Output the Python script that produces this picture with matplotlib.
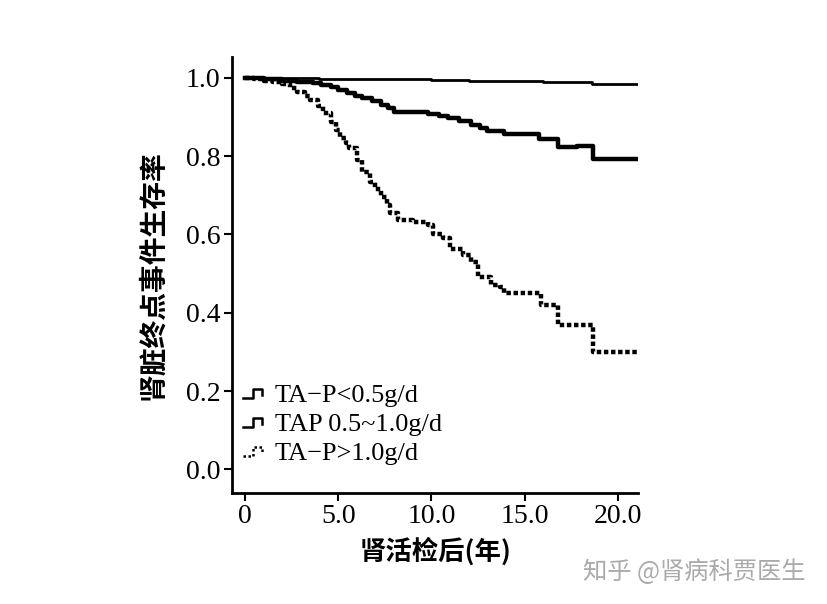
import matplotlib
matplotlib.use("Agg")
import matplotlib.pyplot as plt
from matplotlib.lines import Line2D
from matplotlib.legend_handler import HandlerBase

# Data
t_low = [0, 2.0, 4.0, 6.0, 8.0, 10.0, 12.0, 14.0, 16.0, 18.6, 21.0]
s_low = [1.0, 0.999, 0.998, 0.997, 0.996, 0.995, 0.993, 0.991, 0.989, 0.985, 0.985]

t_mid = [0, 0.5, 1.0, 1.5, 2.0, 2.8, 3.65, 4.1, 4.6, 5.0, 5.5, 5.9, 6.3, 6.8, 7.3, 7.7, 8.0, 9.8, 10.4, 10.9, 11.5,
         12.1, 12.6, 13.0, 13.9, 15.75, 16.8, 17.8, 18.65, 21.0]
s_mid = [1.0, 0.999, 0.998, 0.996, 0.993, 0.990, 0.986, 0.982, 0.977, 0.969, 0.961, 0.955, 0.948, 0.940, 0.931, 0.922,
         0.914, 0.909, 0.903, 0.898, 0.889, 0.880, 0.872, 0.864, 0.857, 0.844, 0.824, 0.826, 0.793, 0.793]

t_high = [0, 0.5, 1.0, 1.5, 2.0, 2.4, 2.8, 3.2, 3.5, 3.9, 4.2, 4.6, 4.9, 5.1, 5.4, 5.6, 6.0, 6.3, 6.7, 7.0, 7.3,
          7.6, 7.8, 8.2, 9.0, 9.8, 10.1, 10.6, 11.0, 11.7, 12.1, 12.5, 13.2, 13.7, 13.9, 15.9, 16.8, 18.65, 21.0]
s_high = [1.0, 0.997, 0.992, 0.989, 0.985, 0.975, 0.965, 0.955, 0.944, 0.928, 0.910, 0.888, 0.866, 0.846, 0.833, 0.821,
          0.790, 0.760, 0.735, 0.715, 0.695, 0.675, 0.655, 0.637, 0.632, 0.624, 0.600, 0.590, 0.562, 0.547,
          0.530, 0.492, 0.472, 0.465, 0.450, 0.420, 0.368, 0.300, 0.300]

labels = ["TA\u2212P<0.5g/d", "TAP 0.5~1.0g/d", "TA\u2212P>1.0g/d"]
xticks = [0, 5, 10, 15, 20]
xticklabels = ["0", "5.0", "10.0", "15.0", "20.0"]
yticks = [0.0, 0.2, 0.4, 0.6, 0.8, 1.0]
yticklabels = ["0.0", "0.2", "0.4", "0.6", "0.8", "1.0"]
ylabel = "肾脏终点事件生存率"
xlabel = "肾活检后(年)"
watermark = "知乎 @肾病科贾医生"

serif = ["Liberation Serif", "DejaVu Serif"]
cjk = ["Noto Sans CJK SC", "DejaVu Sans"]

fig = plt.figure(figsize=(8.28, 6.04), dpi=100)
ax = fig.add_axes([0.280, 0.184, 0.491, 0.722])

l1, = ax.step(t_low, s_low, where="post", color="black", lw=2.0)
l2, = ax.step(t_mid, s_mid, where="post", color="black", lw=3.2)
l3, = ax.step(t_high, s_high, where="post", color="black", lw=3.2, dashes=(1.0, 0.6))

ax.set_xlim(-0.7, 21.1)
ax.set_ylim(-0.06, 1.054)
ax.spines["top"].set_visible(False)
ax.spines["right"].set_visible(False)
for s in ("left", "bottom"):
    ax.spines[s].set_linewidth(2.0)
ax.set_xticks(xticks)
ax.set_xticklabels(xticklabels, fontfamily=serif, fontsize=20)
ax.set_yticks(yticks)
ax.set_yticklabels(yticklabels, fontfamily=serif, fontsize=20)
ax.tick_params(direction="out", length=6, width=1.5, pad=2)

ax.set_ylabel(ylabel, fontfamily=cjk, fontsize=20, fontweight="bold", labelpad=14)
ax.set_xlabel(xlabel, fontfamily=cjk, fontsize=19, fontweight="bold", labelpad=6)


class StepHandler(HandlerBase):
    def create_artists(self, legend, orig_handle, xdescent, ydescent, width, height, fontsize, trans):
        x0 = -xdescent
        h = height
        xs = [x0, x0 + width * 0.4, x0 + width * 0.4, x0 + width * 0.8, x0 + width * 0.8]
        ys = [h * 0.2, h * 0.2, h * 0.7, h * 0.7, h * 0.35]
        ln = Line2D(xs, ys, color="black", lw=1.8)
        if orig_handle is l3:
            ln.set_dashes((1.0, 1.0))
        ln.set_transform(trans)
        return [ln]


leg = ax.legend([l1, l2, l3], labels, loc="lower left", bbox_to_anchor=(-0.03, 0.009),
                frameon=False, prop={"family": serif, "size": 19},
                handlelength=0.9, handletextpad=0.3, labelspacing=0.22,
                handler_map={l1: StepHandler(), l2: StepHandler(), l3: StepHandler()})

fig.text(0.704, 0.053, watermark, fontfamily=cjk, fontsize=17.5, color="#aaaaaa",
         ha="left", va="center")

fig.savefig("out.png", dpi=100)
